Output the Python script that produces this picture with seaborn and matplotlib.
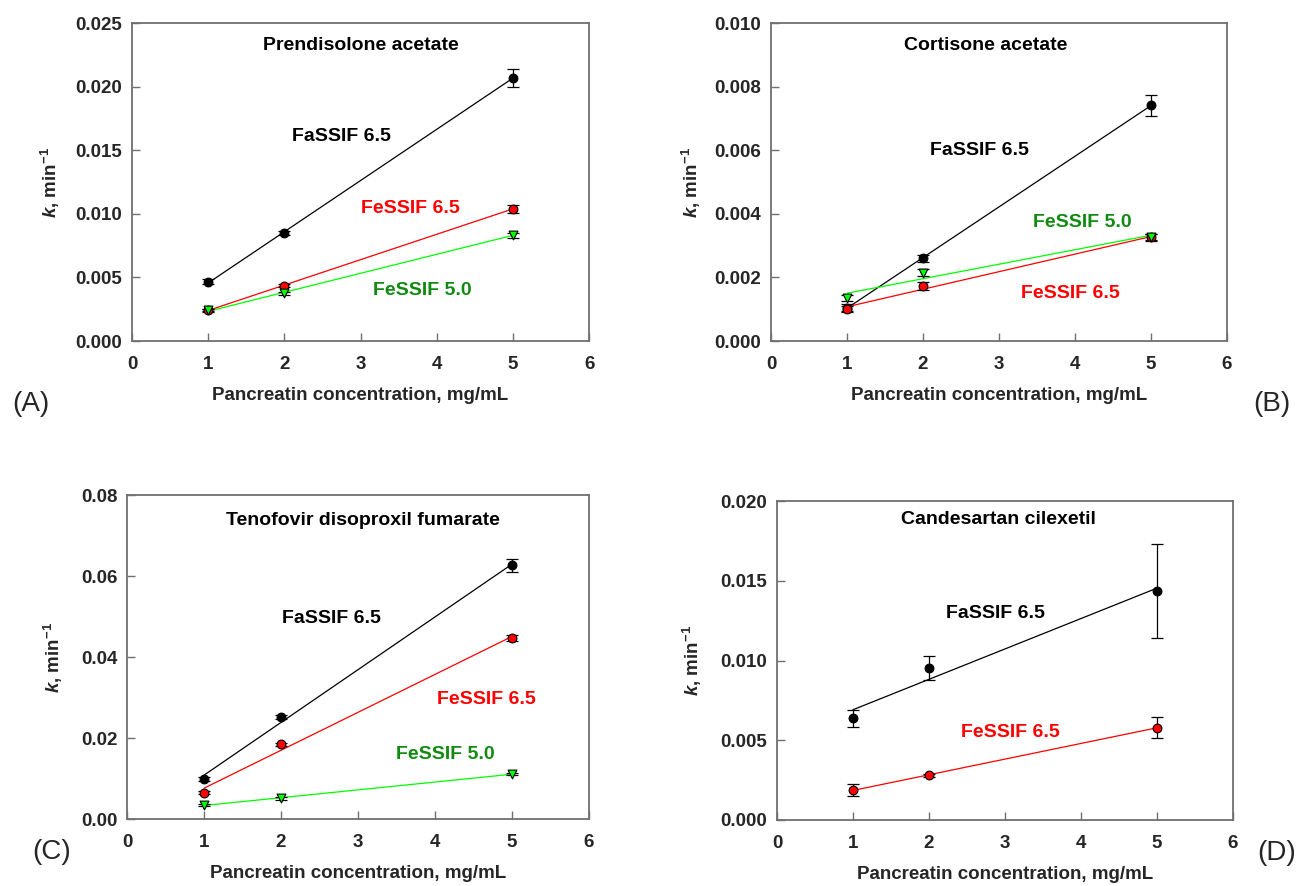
import numpy as np
import pandas as pd
import matplotlib
matplotlib.use("Agg")
import matplotlib.pyplot as plt
from matplotlib.ticker import FormatStrFormatter
import seaborn as sns

# data
conc = [1, 2, 5]

# (A) Prendisolone acetate
a_fassif65 = [0.00466, 0.00847, 0.0207]
a_fassif65_err = [0.0002, 0.00015, 0.0007]
a_fessif65 = [0.00244, 0.00435, 0.0104]
a_fessif65_err = [0.0001, 0.0001, 0.0003]
a_fessif50 = [0.0024, 0.00375, 0.00833]
a_fessif50_err = [0.0001, 0.0001, 0.0002]

# (B) Cortisone acetate
b_fassif65 = [0.00105, 0.0026, 0.00741]
b_fassif65_err = [0.0001, 0.0001, 0.00032]
b_fessif65 = [0.001, 0.00173, 0.00326]
b_fessif65_err = [0.0001, 0.00012, 0.0001]
b_fessif50 = [0.00136, 0.00215, 0.00328]
b_fessif50_err = [0.0001, 0.0001, 0.0001]

# (C) Tenofovir disoproxil fumarate
c_fassif65 = [0.00988, 0.0251, 0.0626]
c_fassif65_err = [0.0005, 0.0005, 0.0015]
c_fessif65 = [0.0065, 0.01844, 0.0447]
c_fessif65_err = [0.0003, 0.0003, 0.0007]
c_fessif50 = [0.00346, 0.0051, 0.0111]
c_fessif50_err = [0.0002, 0.0003, 0.0003]

# (D) Candesartan cilexetil
d_fassif65 = [0.00638, 0.00953, 0.01436]
d_fassif65_err = [0.00052, 0.00073, 0.00297]
d_fessif65 = [0.00188, 0.0028, 0.00579]
d_fessif65_err = [0.00035, 0.0001, 0.00067]

sns.set_theme(style="ticks")
plt.rcParams['font.family'] = ['Liberation Sans', 'DejaVu Sans']
plt.rcParams['font.weight'] = 'bold'
plt.rcParams['mathtext.fontset'] = 'custom'
plt.rcParams['mathtext.it'] = 'Liberation Sans:italic:bold'
plt.rcParams['mathtext.rm'] = 'Liberation Sans:bold'
plt.rcParams['mathtext.bf'] = 'Liberation Sans:bold'

fig = plt.figure(figsize=(13.01, 8.86), dpi=100)

BLACK = 'black'
RED = '#ff0000'
LIME = '#00ff00'
GREEN_TXT = '#118a11'


def series(ax, y, err, color, marker):
    df = pd.DataFrame({'x': conc, 'y': y})
    # fitted straight line over the data range
    sns.regplot(data=df, x='x', y='y', ax=ax, scatter=False, ci=None,
                color=color, line_kws={'lw': 0.9, 'zorder': 2})
    ax.errorbar(conc, y, yerr=err, fmt='none', ecolor='black', elinewidth=0.9,
                capsize=4, capthick=0.9, zorder=3)
    sns.scatterplot(data=df, x='x', y='y', ax=ax, color=color, marker=marker,
                    s=40, edgecolor='black', linewidth=0.8, zorder=4)


def style(ax, ymax, ystep, fmt, ylab_x):
    ax.set_xlim(0, 6)
    ax.set_ylim(0, ymax)
    ax.set_xticks(range(0, 7))
    ax.set_yticks(np.arange(0, ymax + ystep / 2, ystep))
    ax.yaxis.set_major_formatter(FormatStrFormatter(fmt))
    for s in ax.spines.values():
        s.set_visible(True)
        s.set_color('#707070')
        s.set_linewidth(1.3)
    ax.tick_params(axis='both', direction='in', length=6, width=1,
                   color='#707070', labelsize=13.5, top=False, right=False)
    ax.tick_params(axis='x', pad=11)
    ax.tick_params(axis='y', pad=7)
    for lab in ax.get_xticklabels() + ax.get_yticklabels():
        lab.set_fontweight('bold')
    ax.set_xlabel('Pancreatin concentration, mg/mL', fontsize=13.5,
                  fontweight='bold', labelpad=10)
    ax.set_ylabel(r'$\it{k}$, min$^{-1}$', fontsize=13.5, fontweight='bold')
    ax.yaxis.set_label_coords(ylab_x, 0.5)


def note(ax, x, y, text, color, size=14):
    ax.text(x, y, text, color=color, fontsize=size, fontweight='bold',
            ha='center', va='center')


# (A)
ax = fig.add_axes([0.1015, 0.6151, 0.3513, 0.3589])
series(ax, a_fassif65, a_fassif65_err, BLACK, 'o')
series(ax, a_fessif65, a_fessif65_err, RED, 'o')
series(ax, a_fessif50, a_fessif50_err, LIME, 'v')
style(ax, 0.025, 0.005, '%.3f', -0.153)
note(ax, 3.0, 0.0232, 'Prendisolone acetate', 'black')
note(ax, 2.75, 0.0161, 'FaSSIF 6.5', 'black')
note(ax, 3.65, 0.01038, 'FeSSIF 6.5', RED)
note(ax, 3.81, 0.00396, 'FeSSIF 5.0', GREEN_TXT)

# (B)
ax = fig.add_axes([0.5926, 0.6151, 0.3505, 0.3589])
series(ax, b_fassif65, b_fassif65_err, BLACK, 'o')
series(ax, b_fessif65, b_fessif65_err, RED, 'o')
series(ax, b_fessif50, b_fessif50_err, LIME, 'v')
style(ax, 0.010, 0.002, '%.3f', -0.148)
note(ax, 2.82, 0.00928, 'Cortisone acetate', 'black')
note(ax, 2.74, 0.0060, 'FaSSIF 6.5', 'black')
note(ax, 4.09, 0.00372, 'FeSSIF 5.0', GREEN_TXT)
note(ax, 3.94, 0.00148, 'FeSSIF 6.5', RED)

# (C)
ax = fig.add_axes([0.0976, 0.0756, 0.3551, 0.3657])
series(ax, c_fassif65, c_fassif65_err, BLACK, 'o')
series(ax, c_fessif65, c_fessif65_err, RED, 'o')
series(ax, c_fessif50, c_fessif50_err, LIME, 'v')
style(ax, 0.08, 0.02, '%.2f', -0.135)
note(ax, 3.06, 0.0738, 'Tenofovir disoproxil fumarate', 'black')
note(ax, 2.65, 0.0496, 'FaSSIF 6.5', 'black')
note(ax, 4.67, 0.0296, 'FeSSIF 6.5', RED)
note(ax, 4.13, 0.0160, 'FeSSIF 5.0', GREEN_TXT)

# (D)
ax = fig.add_axes([0.5972, 0.0745, 0.3505, 0.3600])
series(ax, d_fassif65, d_fassif65_err, BLACK, 'o')
series(ax, d_fessif65, d_fessif65_err, RED, 'o')
style(ax, 0.020, 0.005, '%.3f', -0.16)
note(ax, 2.91, 0.01887, 'Candesartan cilexetil', 'black')
note(ax, 2.88, 0.01296, 'FaSSIF 6.5', 'black')
note(ax, 3.07, 0.0055, 'FeSSIF 6.5', RED)

# panel letters
for lx, ly, lab in [(31, 404, '(A)'), (1272, 404, '(B)'),
                    (52, 852, '(C)'), (1277, 853, '(D)')]:
    fig.text(lx / 1301, 1 - ly / 886, lab, fontsize=20, fontweight='normal',
             ha='center', va='center')

fig.savefig('out.png', dpi=100)
